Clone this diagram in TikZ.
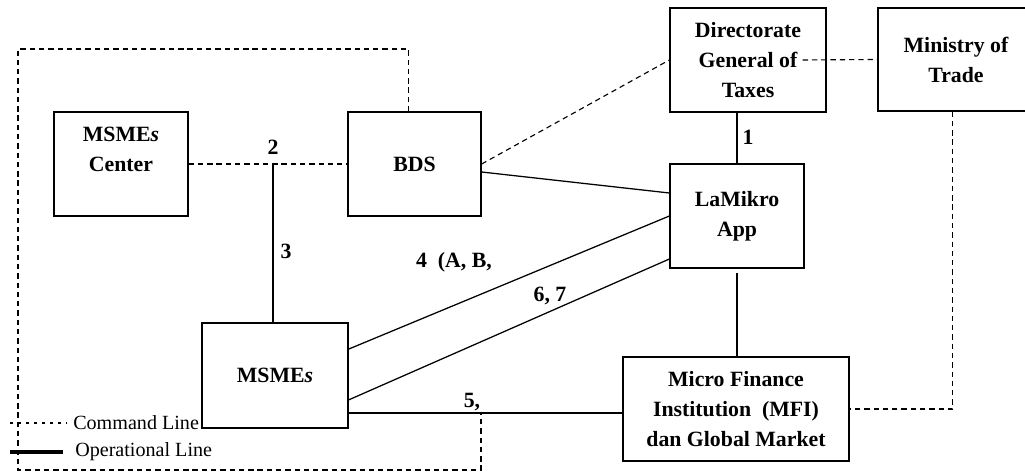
\documentclass[tikz,border=0pt]{standalone}
\usepackage{fontspec}
\setmainfont{Liberation Serif}
\usetikzlibrary{positioning,calc}
\tikzset{box/.style={draw=black,line width=0.9pt,inner sep=0pt,align=center,font=\fontsize{15.5}{21.3}\selectfont\bfseries}}
\tikzset{num/.style={font=\fontsize{15.5}{18}\selectfont\bfseries,inner sep=1pt}}
\tikzset{legtext/.style={font=\fontsize{14.3}{17}\selectfont,inner sep=0pt,anchor=west}}
\tikzset{cmdline/.style={line width=0.8pt,dash pattern=on 3.8pt off 2.8pt}}
\tikzset{opline/.style={line width=0.9pt}}

\begin{document}
\begin{tikzpicture}[x=0.025cm, y=-0.025cm]
\useasboundingbox (0,0) rectangle (1025,472);
\clip (0,0) rectangle (1025,472);
    \node[box,minimum width=3.35cm,minimum height=2.6cm] (MC) at (121,164) {MSME\textit{s}\\Center\\\mbox{}};
    \node[box,minimum width=3.325cm,minimum height=2.6cm] (BDS) at (414.5,164) {BDS};
    \node[box,minimum width=3.9cm,minimum height=2.6cm] (DGT) at (748,60) {Directorate\\General of\\Taxes};
    \node[box,minimum width=3.9cm,minimum height=2.575cm] (MOT) at (956,59.5) {Ministry of\\Trade};
    \node[box,minimum width=3.35cm,minimum height=2.6cm] (APP) at (737,216) {LaMikro\\App};
    \node[box,minimum width=3.65cm,minimum height=2.625cm] (UMKM) at (275,375.5) {MSME\textit{s}};
    \node[box,minimum width=5.65cm,minimum height=2.6cm] (MFI) at (736,409) {Micro Finance\\Institution\ \ (MFI)\\dan Global Market};

    \coordinate (J2) at (273,164);
    \coordinate (J5) at ($(UMKM.east)+(0,-0.94cm)$);
    \coordinate (TL) at (18,49);
    \coordinate (BL) at (18,470);

    % command lines
    \path[cmdline] (MC.east) edge (BDS.west);
    \path[cmdline] (BDS.east) edge (DGT.west);
    \path[cmdline] ([xshift=-0.6cm]DGT.east) edge (MOT.west);
    \draw[cmdline] ([xshift=-0.08cm]MOT.south) |- (MFI.east);
    \draw[cmdline] ([xshift=-0.14cm]BDS.north) |- (TL) -- (BL) -| (481,413);

    % operational lines
    \path[opline] (J2) edge (J2 |- UMKM.north);
    \path[opline] ([yshift=-0.2cm]BDS.east) edge ([yshift=0.575cm]APP.west);
    \path[opline] (APP.north) edge (APP.north |- DGT.south);
    \path[opline] ([yshift=-0.1cm]APP.south) edge (APP.south |- MFI.north);
    \path[opline] ([yshift=0.66cm]UMKM.east) edge (APP.west);
    \path[opline] ([yshift=-0.61cm]UMKM.east) edge ([yshift=-1.075cm]APP.west);
    \path[opline] (J5) edge (J5 -| MFI.west);

    \node[num] (n1) at (748,137) {1};
    \node[num] (n2) at (273,147) {2};
    \node[num] (n3) at (286,251) {3};
    \node[num] (n4) at (454,262) {4\ \ (A, B,};
    \node[num] (n5) at (472,402) {5,};
    \node[num] (n6) at (550,296) {6, 7};

    % legend
    \node[legtext] (lc) at (73,423) {Command Line};
    \node[legtext] (lo) at (75,452) {Operational Line};
    \coordinate (lc0) at (10,423);
    \coordinate (lo0) at (10,452);
    \draw[line width=1.6pt,dash pattern=on 2pt off 3.7pt] (lc0) -- ([xshift=-0.15cm]lc.west);
    \draw[line width=2.2pt] (lo0) -- ([xshift=-0.3cm]lo.west);
\label{fig:lamikro}
\end{tikzpicture}
\end{document}
